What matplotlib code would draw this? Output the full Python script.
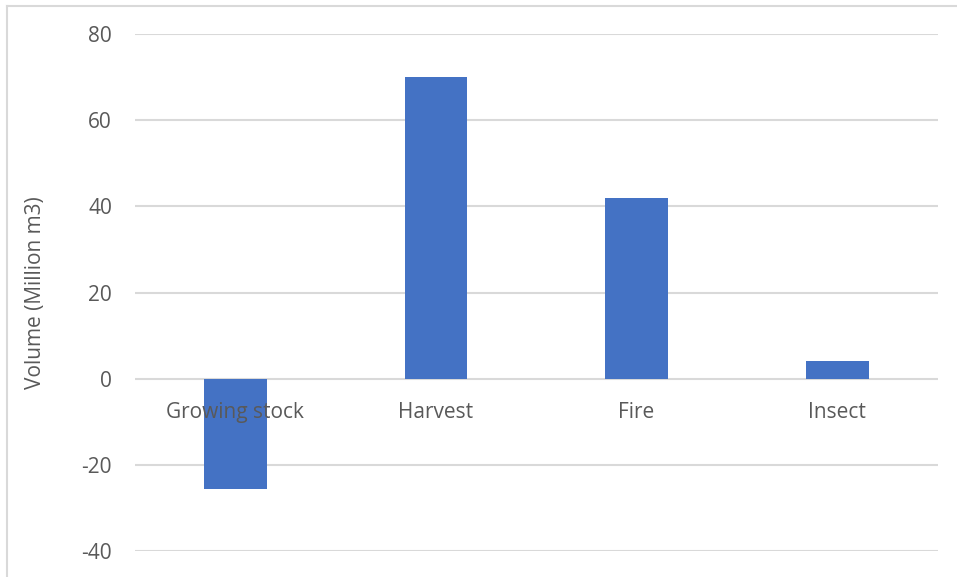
import matplotlib
matplotlib.use("Agg")
import matplotlib.pyplot as plt
from matplotlib.lines import Line2D
import matplotlib.transforms as mtransforms

categories = ["Growing stock", "Harvest", "Fire", "Insect"]
values = [-25.7, 70.0, 42.0, 4.1]
yticks = [-40, -20, 0, 20, 40, 60, 80]

plt.rcParams['font.family'] = ['Open Sans', 'DejaVu Sans']

W, H = 957, 577
fig = plt.figure(figsize=(W / 100, H / 100), dpi=100)
ax = fig.add_axes([135 / W, 1 - 551 / H, (937.5 - 135) / W, (551 - 34) / H])

text_color = "#595959"
grid_color = "#d9d9d9"
bar_color = "#4472C4"
fs = 15

x = list(range(len(categories)))
ax.bar(x, values, width=0.3125, color=bar_color, zorder=2)

ax.set_xlim(-0.5, len(categories) - 0.5)
ax.set_ylim(-40, 80)
ax.set_yticks(yticks)
ax.set_yticklabels([str(t) for t in yticks], color=text_color, fontsize=fs)
ax.tick_params(axis='y', length=0, pad=16.5)
ax.set_xticks([])
ax.set_axisbelow(True)
ax.yaxis.grid(True, color=grid_color, linewidth=1.5)
for s in ax.spines.values():
    s.set_visible(False)

trans = mtransforms.offset_copy(ax.transData, fig=fig, x=0, y=-34, units='dots')
for xi, cat in zip(x, categories):
    ax.text(xi, 0, cat, transform=trans, ha='center', va='center',
            color=text_color, fontsize=fs, zorder=5)

ax.set_ylabel("Volume (Million m3)", color=text_color, fontsize=fs)
ax.yaxis.set_label_coords(-89 / (937.5 - 135), 0.5)

# chart outer border (left and top visible)
fig.add_artist(Line2D([7.5 / W, 7.5 / W], [0, 1 - 5.5 / H], transform=fig.transFigure,
                      color=grid_color, linewidth=1.5))
fig.add_artist(Line2D([7.5 / W, 1], [1 - 5.5 / H, 1 - 5.5 / H], transform=fig.transFigure,
                      color=grid_color, linewidth=1.5))

fig.savefig("out.png", dpi=100)
